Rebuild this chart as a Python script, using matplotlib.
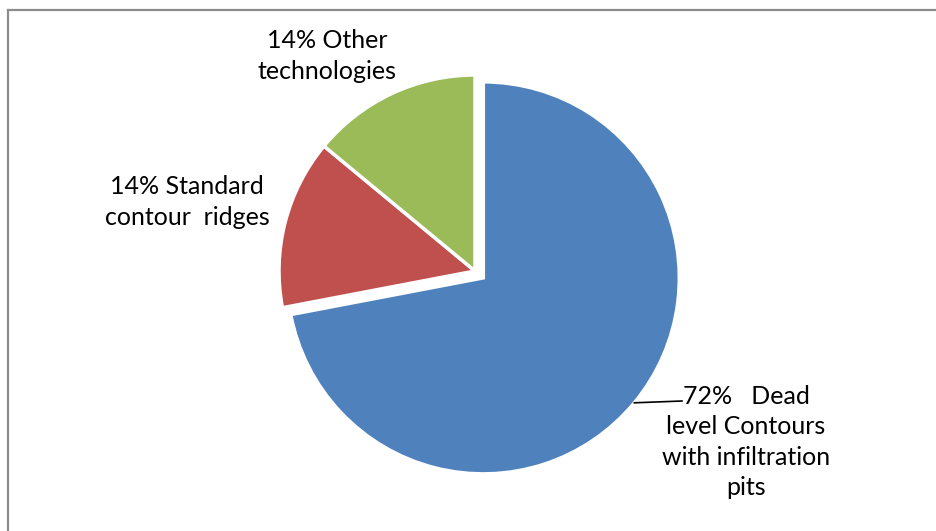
import numpy as np
import matplotlib.pyplot as plt
from matplotlib.lines import Line2D

# share of each technology (%)
labels = ['72%   Dead\nlevel Contours\nwith infiltration\npits',
          '14% Standard\ncontour  ridges',
          '14% Other\ntechnologies']
shares = [72, 14, 14]
colors = ['#4F81BD', '#C0504D', '#9BBB59']
explode = [0.055, 0, 0]

W, H = 936, 531
cx, cy, R = 475, 271, 196   # pie centre and radius in pixels


def px(x, y):
    # pixel position -> data units of the pie axes
    return (x - cx) / R, (cy - y) / R


fig = plt.figure(figsize=(W / 100, H / 100), dpi=100)
ax = fig.add_axes([0, 0, 1, 1])

wedges, _ = ax.pie(shares, colors=colors, explode=explode, startangle=90,
                   counterclock=False, radius=1,
                   wedgeprops=dict(edgecolor='white', linewidth=2.5))
ax.set_aspect('auto')
ax.set_xlim(-cx / R, (W - cx) / R)
ax.set_ylim(-(H - cy) / R, cy / R)
ax.axis('off')

font = dict(family='Lato', fontsize=18, color='black',
            ha='center', va='center', linespacing=1.4)

# label positions (pixels)
pos = [(746, 442), (187, 202), (327, 56)]
for lab, (x, y) in zip(labels, pos):
    ax.text(*px(x, y), lab, **font)

# leader line from the big wedge to its label
w = wedges[0]
mid = np.deg2rad((w.theta1 + w.theta2) / 2)
sx, sy = w.center[0] + np.cos(mid), w.center[1] + np.sin(mid)
ex, ey = px(682, 401)
ax.plot([sx, ex], [sy, ey], color='black', lw=1.2)

# chart frame
fig.add_artist(Line2D([8 / W, 1], [1 - 10 / H, 1 - 10 / H],
                      transform=fig.transFigure, color='#8c8c8c', lw=1.6))
fig.add_artist(Line2D([8 / W, 8 / W], [0, 1 - 10 / H],
                      transform=fig.transFigure, color='#8c8c8c', lw=1.6))

fig.savefig('out.png', dpi=100)
